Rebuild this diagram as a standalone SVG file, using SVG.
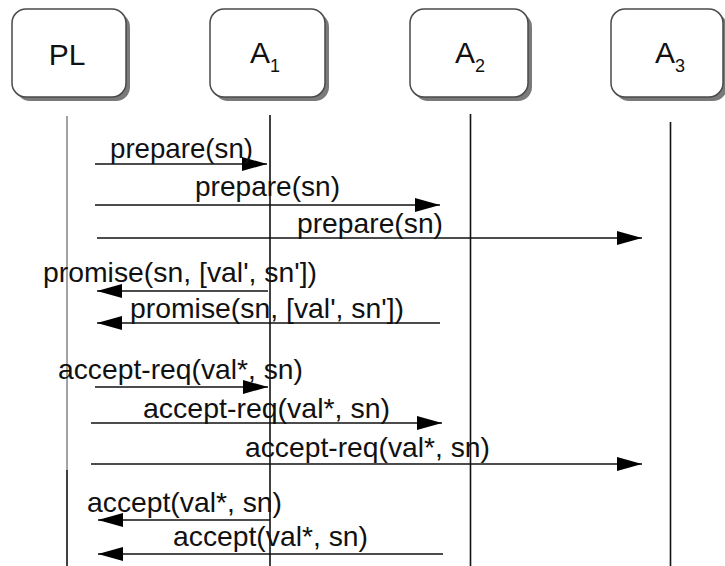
<svg xmlns="http://www.w3.org/2000/svg" width="725" height="566" viewBox="0 0 725 566">
  <style>
    .box { fill: #ffffff; stroke: #4a4a4a; stroke-width: 1.5; }
    .shadow { fill: #7a7a7a; }
    .name { font-family: "Liberation Sans", Arial, sans-serif; font-size: 30px; fill: #111; text-anchor: middle; }
    .sub { font-size: 18px; }
    .life { stroke: #111; stroke-width: 1.6; fill: none; }
    .life-grey { stroke: #8c8c8c; stroke-width: 1.6; fill: none; }
    .msg { stroke: #111; stroke-width: 1.6; fill: none; marker-end: url(#head); }
    .lbl { font-family: "Liberation Sans", Arial, sans-serif; font-size: 28px; fill: #111; }
  </style>
  <defs>
    <marker id="head" markerUnits="userSpaceOnUse" markerWidth="26" markerHeight="15" refX="25" refY="7" orient="auto">
      <path d="M0,0 L25,7 L0,14 Z" fill="#000"/>
    </marker>
  </defs>
  <rect width="725" height="566" fill="#ffffff"/>

  <!-- participants -->
  <g id="node-PL">
    <rect class="shadow" x="16" y="13" width="114" height="88" rx="14"/>
    <rect class="box" x="12" y="9" width="114" height="88" rx="14"/>
    <text class="name" x="67" y="65">PL</text>
  </g>
  <g id="node-A1">
    <rect class="shadow" x="214" y="13" width="115" height="88" rx="14"/>
    <rect class="box" x="210" y="9" width="115" height="88" rx="14"/>
    <text class="name" x="265" y="63">A<tspan class="sub" dy="9">1</tspan></text>
  </g>
  <g id="node-A2">
    <rect class="shadow" x="414" y="13" width="118" height="88" rx="14"/>
    <rect class="box" x="410" y="9" width="118" height="88" rx="14"/>
    <text class="name" x="470" y="63">A<tspan class="sub" dy="9">2</tspan></text>
  </g>
  <g id="node-A3">
    <rect class="shadow" x="615" y="13" width="112" height="88" rx="14"/>
    <rect class="box" x="611" y="9" width="112" height="88" rx="14"/>
    <text class="name" x="670" y="63">A<tspan class="sub" dy="9">3</tspan></text>
  </g>

  <!-- lifelines -->
  <g id="lifelines">
    <line class="life-grey" x1="67" y1="116" x2="67" y2="470"/>
    <line class="life" x1="67" y1="470" x2="67" y2="566"/>
    <line class="life" x1="270" y1="115" x2="270" y2="566"/>
    <line class="life" x1="470.5" y1="114" x2="470.5" y2="566"/>
    <line class="life" x1="670.5" y1="122" x2="670.5" y2="566" stroke="#333"/>
  </g>

  <!-- messages -->
  <g id="connectors">
    <line class="msg" x1="95" y1="164" x2="267" y2="164"/>
    <line class="msg" x1="95" y1="205" x2="440" y2="205"/>
    <line class="msg" x1="97" y1="238" x2="642" y2="238"/>
    <line class="msg" x1="268" y1="291" x2="97" y2="291"/>
    <line class="msg" x1="440" y1="323" x2="97" y2="323"/>
    <line class="msg" x1="95" y1="387" x2="268" y2="387"/>
    <line class="msg" x1="91" y1="423" x2="442" y2="423"/>
    <line class="msg" x1="91" y1="464" x2="642" y2="464"/>
    <line class="msg" x1="270" y1="520" x2="98" y2="520"/>
    <line class="msg" x1="443" y1="554" x2="98" y2="554"/>
  </g>

  <!-- message labels -->
  <g id="labels">
    <text class="lbl" x="110" y="158" textLength="143" lengthAdjust="spacingAndGlyphs">prepare(sn)</text>
    <text class="lbl" x="195" y="196" textLength="145" lengthAdjust="spacingAndGlyphs">prepare(sn)</text>
    <text class="lbl" x="297" y="233" textLength="146" lengthAdjust="spacingAndGlyphs">prepare(sn)</text>
    <text class="lbl" x="43" y="282" textLength="274" lengthAdjust="spacingAndGlyphs">promise(sn, [val', sn'])</text>
    <text class="lbl" x="130" y="318" textLength="274" lengthAdjust="spacingAndGlyphs">promise(sn, [val', sn'])</text>
    <text class="lbl" x="58" y="379" textLength="245" lengthAdjust="spacingAndGlyphs">accept-req(val*, sn)</text>
    <text class="lbl" x="143" y="418" textLength="247" lengthAdjust="spacingAndGlyphs">accept-req(val*, sn)</text>
    <text class="lbl" x="245" y="457" textLength="245" lengthAdjust="spacingAndGlyphs">accept-req(val*, sn)</text>
    <text class="lbl" x="87" y="512" textLength="195" lengthAdjust="spacingAndGlyphs">accept(val*, sn)</text>
    <text class="lbl" x="173" y="546" textLength="195" lengthAdjust="spacingAndGlyphs">accept(val*, sn)</text>
  </g>
</svg>
